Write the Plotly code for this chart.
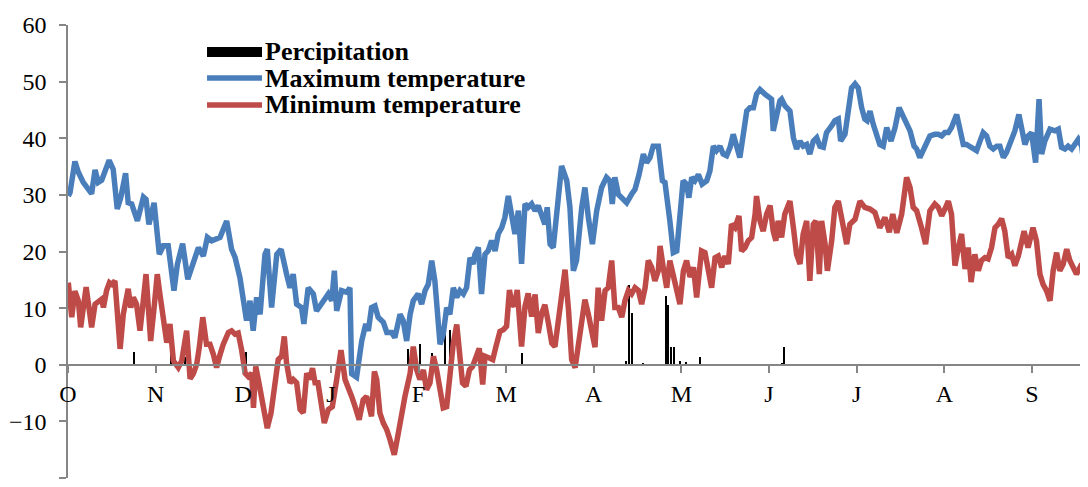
import plotly.graph_objects as go

# x positions are days since 1 October (axis shows equal-width months)
month_labels = ["O", "N", "D", "J", "F", "M", "A", "M", "J", "J", "A", "S"]
month_len = 30.43

tmax_day = [0.1, 0.7, 2.4, 3.6, 5.3, 8.2, 9.4, 10.5, 11.7, 14.3, 15.7, 17.1, 18.3, 20.0, 20.9, 22.1, 24.1, 26.2, 27.1, 28.1,
            29.9, 31.7, 33.1, 34.8, 36.8, 38.0, 39.8, 41.6, 43.5, 45.3, 47.0, 48.4, 49.9, 52.8, 55.1, 56.8, 58.0,
            59.7, 62.0, 63.2, 64.3, 65.5, 66.7, 68.4, 69.2, 70.7, 72.5, 74.0, 75.9, 77.1, 78.2, 79.4, 81.1, 81.9, 83.4,
            85.2, 86.3, 88.6, 90.4, 91.6, 92.5, 93.3, 95.0, 96.8, 97.9, 98.5, 100.2, 102.0, 103.4, 104.3, 105.4, 106.6,
            107.7, 109.5, 110.7, 112.4, 113.5, 115.3, 116.4, 117.6, 118.8,
            119.9, 121.6, 122.8, 124.0, 125.1, 126.3, 127.4, 129.2, 130.3, 131.5, 132.6, 133.8, 135.0, 136.1, 137.3,
            138.4, 139.6, 140.7, 141.3, 142.5, 143.6, 144.8, 145.9, 147.1, 148.3, 149.4, 150.6, 151.7, 152.9, 154.1,
            155.2, 156.4, 157.5, 158.7, 159.8, 161.0, 162.2, 163.3, 164.5, 165.6, 166.4, 167.4, 168.5, 169.7, 171.4,
            173.2, 174.3, 175.5, 176.6, 178.4, 179.5,
            180.7, 182.1, 183.6, 185.3, 187.0, 188.2, 189.0, 189.9, 191.1, 192.3, 194.0, 195.7, 196.9, 198.3, 199.8,
            200.9, 202.1, 203.2, 205.0, 206.4, 207.3, 209.0, 210.2, 211.4, 212.5, 213.6, 214.8, 215.6, 216.6, 217.7,
            218.9, 220.2, 221.8, 222.9, 224.1, 225.2, 226.4, 227.5, 228.7, 229.9, 231.0, 232.2, 233.3, 234.5, 235.7,
            236.8, 238.0, 239.1, 240.3,
            242.0, 243.2, 244.3, 244.9, 246.1, 247.2, 247.8, 249.0, 250.7, 251.9, 253.0, 254.2, 255.3, 256.5, 257.6,
            258.8, 260.0, 261.1, 262.3, 263.4, 265.2, 266.3, 267.5, 268.3, 269.8, 271.0, 272.1, 273.3, 274.4, 275.6,
            276.7, 277.5, 278.5, 279.6, 280.8, 281.9, 283.1, 284.3, 285.8, 287.2, 288.6, 290.0, 291.2, 292.4, 293.8,
            294.7, 295.8, 297.0, 298.2, 299.3, 301.0,
            302.2, 303.4, 304.5, 305.7, 306.8, 308.6, 309.7, 310.9, 312.0, 313.2, 314.4, 315.5, 316.7, 317.8, 319.0,
            320.1, 321.3, 322.5, 323.6, 324.8, 325.9, 327.7, 328.8, 330.2, 331.4, 332.3, 333.4, 334.6, 336.0, 337.2,
            338.1, 339.2, 341.0, 342.7, 343.9, 345.0, 346.2, 347.3, 348.5, 349.7, 350.8, 352.0, 352.9, 354.2]
tmax = [29.8, 30.4, 35.9, 34.0, 32.2, 30.2, 34.4, 32.2, 32.6, 36.1, 34.5, 27.5, 29.5, 33.8, 28.6, 28.4, 25.4, 29.6, 29.2, 24.8,
        28.6, 19.5, 21.0, 21.0, 13.1, 17.8, 21.4, 15.1, 18.0, 20.7, 19.2, 22.5, 21.9, 22.5, 25.4, 20.4, 19.0,
        15.4, 7.8, 11.3, 6.0, 11.9, 8.9, 19.5, 20.4, 10.1, 19.5, 20.4, 16.0, 13.6, 16.0, 10.7, 10.1, 7.2, 13.6,
        12.5, 9.5, 11.3, 12.5, 11.3, 16.6, 9.5, 13.1, 12.8, 13.6, -1.6, -2.2, 4.2, 7.2, 6.0, 10.1, 10.4,
        8.4, 7.5, 5.7, 5.7, 4.8, 8.9, 7.8, 4.2, 8.9,
        11.3, 12.5, 10.7, 13.1, 14.2, 18.4, 14.8, 3.6, 5.4, 10.1, 8.9, 13.6, 11.9, 13.1, 12.5,
        13.6, 18.9, 17.8, 19.5, 20.7, 12.5, 19.5, 20.1, 21.9, 20.1, 23.1, 24.2, 26.0, 29.8, 26.6,
        23.1, 27.2, 17.8, 28.4, 27.8, 28.4, 27.2, 28.1, 26.6, 24.8, 27.8, 21.3, 20.7, 26.6, 35.1,
        32.5, 27.8, 16.6, 18.4, 27.8, 31.3,
        26.0, 21.3, 27.2, 31.3, 33.1, 32.5, 28.4, 33.1, 30.1, 29.5, 28.6, 30.1, 31.0, 33.6, 37.2,
        35.7, 36.6, 38.6, 38.6, 32.5, 32.2, 25.4, 19.8, 20.1, 27.8, 32.5, 31.9, 29.5, 33.1, 32.5,
        33.6, 31.9, 32.5, 34.2, 38.6, 37.8, 38.6, 37.2, 36.9, 38.4, 40.7, 38.9, 36.6, 40.7, 44.8,
        45.4, 45.4, 47.8, 48.6,
        47.8, 47.2, 46.9, 41.3, 44.2, 46.6, 46.9, 45.7, 44.8, 40.1, 38.1, 39.5, 38.6, 38.9, 37.2,
        39.5, 40.1, 38.6, 38.4, 41.0, 42.2, 43.1, 43.4, 39.5, 40.7, 45.4, 48.9, 49.6, 48.9, 45.4,
        43.4, 43.1, 44.8, 42.5, 40.7, 38.9, 38.6, 41.9, 39.5, 41.9, 45.4, 43.9, 43.1, 41.3, 38.6,
        38.1, 36.6, 37.8, 39.5, 40.4, 40.7,
        40.7, 40.4, 41.0, 41.0, 41.9, 44.2, 41.3, 38.9, 38.9, 38.6, 38.1, 37.8, 39.5, 41.0, 40.4,
        38.6, 38.1, 38.6, 38.6, 36.6, 37.5, 39.8, 41.3, 44.2, 41.3, 38.9, 40.4, 41.0, 35.7, 46.9,
        37.2, 39.5, 41.6, 41.3, 41.6, 38.4, 38.1, 38.6, 38.1, 38.9, 39.8, 38.6, 35.1, 37.2]

tmin_day = [0.1, 1.3, 2.4, 3.6, 4.4, 5.3, 6.3, 7.6, 8.2, 9.4, 10.5, 11.7, 12.3, 13.4, 14.4, 15.2, 16.3, 17.1, 18.1, 19.2,
            20.9, 21.8, 22.7, 23.8, 25.0, 25.9, 27.1, 27.9, 28.7, 29.9, 31.0, 31.9, 33.3, 34.3, 35.4, 36.6, 38.3, 39.5,
            41.2, 42.4, 43.5, 44.7, 45.6, 46.8, 48.1, 49.3, 50.5, 51.6, 52.8, 53.9, 55.7, 56.8, 58.0,
            59.1, 60.3, 61.5, 62.6, 63.8, 64.4, 65.2, 66.3, 67.8, 69.2, 70.5, 71.9, 73.0, 74.2, 75.1, 75.9, 77.1,
            78.2, 79.4, 80.6, 81.7, 82.9, 84.0, 84.9, 85.8, 86.8, 88.1, 89.0, 90.4, 91.8, 93.3, 94.8, 96.2, 97.3,
            98.5, 99.7, 101.1, 102.5, 103.7, 105.4, 106.4, 107.2, 108.3, 109.5, 110.7, 111.8, 113.3, 114.7, 115.9,
            117.0, 118.8,
            119.9, 121.1, 122.2, 123.4, 124.5, 125.7, 126.9, 128.0, 129.2, 130.3, 131.5, 132.6, 133.8, 135.0, 135.9,
            137.0, 138.2, 139.4, 140.5, 141.7, 142.8, 144.0, 144.8, 146.3, 147.5, 148.6, 150.0, 151.2, 152.3, 153.3,
            154.1, 154.9, 156.0, 157.5, 158.7, 159.8, 161.0, 162.2, 163.3, 164.5, 165.6, 166.8, 168.0, 169.1, 170.3,
            171.4, 172.6, 173.8, 174.9, 176.1, 177.2, 178.4, 179.5,
            180.7, 181.8, 183.0, 184.1, 185.3, 186.5, 187.6, 188.8, 189.9, 191.1, 192.3, 193.4, 194.6, 195.7, 196.9,
            198.1, 199.2, 200.4, 201.5, 202.7, 203.8, 205.0, 205.6, 206.7, 207.9, 209.0, 210.2, 211.4, 212.5, 213.7,
            214.8, 216.0, 217.2, 218.3, 220.0, 221.2, 222.3, 223.5, 224.7, 225.8, 227.0, 228.1, 229.3, 230.4, 231.6,
            233.0, 233.9, 235.1, 236.2, 237.4, 238.6, 239.1, 240.3,
            241.4, 242.6, 243.8, 244.9, 245.8, 246.6, 247.8, 248.9, 250.7, 251.9, 253.0, 254.2, 255.3, 256.5, 257.6,
            258.8, 259.7, 260.9, 261.7, 262.9, 263.7, 265.2, 266.3, 267.5, 268.6, 270.4, 271.5, 273.3, 275.0, 276.7,
            278.5, 280.2, 281.9, 283.7, 285.2, 286.4, 287.8, 289.5, 291.2, 292.4, 293.5, 294.7, 296.4, 297.8, 299.3,
            301.0,
            302.2, 303.4, 304.5, 305.7, 306.8, 308.0, 309.2, 310.3, 311.5, 312.6, 313.6, 314.9, 316.1, 317.2, 318.4,
            319.5, 320.7, 321.9, 323.0, 324.2, 325.3, 326.5, 327.7, 328.8, 330.0, 331.1, 332.0, 333.4, 335.1, 336.3,
            337.5, 338.6, 339.8, 341.0, 342.1, 343.3, 344.4, 345.6, 346.8, 347.9, 349.1, 350.2, 352.0, 353.1, 354.2]
tmin = [14.5, 8.4, 13.0, 11.3, 6.6, 9.5, 13.7, 8.9, 6.6, 10.7, 11.3, 11.6, 10.1, 13.1, 14.5, 14.2, 14.8, 10.1, 2.8, 8.9,
        13.4, 10.1, 11.9, 10.7, 6.0, 10.1, 16.0, 10.1, 4.2, 10.1, 16.0, 12.5, 7.8, 3.9, 7.2, 0.7, -0.5, 0.7,
        6.0, -2.5, -1.6, 0.1, 3.1, 8.4, 3.6, 3.6, 1.8, -0.5, 1.8, 3.6, 5.7, 6.0, 5.4,
        5.6, 2.6, -1.5, -2.1, -1.5, -7.6, -0.3, -3.2, -7.9, -11.2, -8.5, -2.1, 0.9, 1.5, 5.0, 0.3, -3.2,
        -2.6, -3.2, -7.9, -8.5, -1.5, -2.6, -0.6, -3.2, -3.2, -7.9, -10.3, -7.9, -7.4, -2.6, 2.6, -2.6, -3.8,
        -5.6, -7.4, -9.7, -6.2, -5.6, -9.1, -1.2, -2.6, -8.5, -10.3, -11.5, -13.2, -15.9, -12.1, -8.5,
        -5.6, -1.5,
        3.2, -0.9, -2.6, -0.9, -4.4, -3.2, 1.5, -0.9, -4.4, -7.6, -7.4, -0.9, 3.8, 7.1, 2.1,
        -3.2, -3.8, -0.9, -0.3, 1.8, 2.9, -3.5, 1.5, 1.2, 0.9, 3.2, 5.9, 6.2, 6.8, 13.2,
        10.9, 10.3, 13.2, 3.2, 10.3, 12.6, 8.5, 12.4, 5.6, 9.1, 10.6, 7.4, 3.8, 3.2, 7.4,
        11.5, 16.8, 9.7, 0.9, -0.5, 3.2, 7.4, 11.5,
        8.9, 5.4, 3.1, 13.6, 7.8, 13.1, 13.6, 18.4, 10.1, 10.1, 8.4, 11.3, 13.1, 12.5, 13.6,
        13.1, 10.7, 13.6, 18.4, 17.2, 14.8, 16.6, 21.0, 17.2, 13.6, 18.4, 16.0, 13.1, 10.7, 16.6,
        18.4, 15.5, 17.2, 11.9, 20.1, 19.8, 16.6, 13.6, 18.9, 19.2, 17.2, 19.2, 17.8, 24.8, 24.2,
        26.3, 20.1, 20.7, 21.9, 22.5, 26.6, 29.8, 25.4,
        23.6, 26.6, 28.1, 23.6, 21.9, 25.4, 22.5, 26.6, 28.9, 24.2, 19.5, 17.8, 23.1, 25.4, 14.8,
        24.8, 25.4, 16.0, 25.4, 21.3, 16.6, 21.9, 27.8, 28.9, 26.0, 21.3, 24.8, 25.7, 28.9, 27.8,
        27.5, 26.9, 24.2, 26.0, 23.4, 26.6, 23.3, 26.6, 33.1, 31.3, 27.8, 27.2, 24.2, 21.3, 27.2,
        28.4,
        27.8, 26.3, 27.5, 28.9, 26.6, 17.5, 20.7, 23.1, 16.9, 20.7, 14.6, 19.5, 16.6, 18.4, 18.9,
        18.7, 20.7, 24.2, 24.8, 25.8, 23.6, 18.9, 19.5, 17.5, 19.2, 21.3, 23.6, 20.7, 24.2, 21.9,
        16.0, 14.2, 13.1, 11.3, 16.6, 19.8, 16.6, 17.8, 20.4, 18.4, 17.2, 16.0, 17.8, 16.0, 13.6]

precip_day = [22.9, 35.8, 40.6, 62.0, 118.1, 122.2, 126.4, 130.9, 132.6, 157.6, 193.8, 194.8, 195.8, 199.7,
              207.6, 208.3, 209.4, 210.4, 212.5, 214.6, 219.4, 247.9, 248.6]
precip = [2.2, 2.6, 1.3, 2.2, 2.8, 3.6, 2.0, 6.6, 6.2, 2.0, 0.6, 14.0, 9.2, 0.3,
          12.2, 10.5, 3.1, 3.1, 0.6, 0.4, 1.4, 0.3, 3.2]

series_names = ["Percipitation", "Maximum temperature", "Minimum temperature"]

BLUE = "#4A7EBB"
RED = "#BE4B48"
AXIS = "#868686"
FONT = "Liberation Serif"

fig = go.Figure()
fig.add_trace(go.Bar(x=precip_day, y=precip, width=0.5, marker=dict(color="black", line=dict(width=0)),
                     showlegend=False, name=series_names[0]))
fig.add_trace(go.Scatter(x=tmax_day, y=tmax, mode="lines", name=series_names[1], showlegend=False,
                         line=dict(color=BLUE, width=5.5)))
fig.add_trace(go.Scatter(x=tmin_day, y=tmin, mode="lines", name=series_names[2], showlegend=False,
                         line=dict(color=RED, width=5.5)))

# manual legend (paper coordinates relative to the plot area)
legend_rows = [0.9404, 0.883, 0.8234]
legend_style = [dict(color="black", width=10), dict(color=BLUE, width=5.5), dict(color=RED, width=5.5)]
legend_x0, legend_x1, legend_tx = 0.1363, 0.1902, 0.1922
for name, yv, st in zip(series_names, legend_rows, legend_style):
    fig.add_shape(type="line", xref="paper", yref="paper", x0=legend_x0, x1=legend_x1, y0=yv, y1=yv,
                  line=st)
    fig.add_annotation(xref="paper", yref="paper", x=legend_tx, y=yv, xanchor="left", yanchor="middle",
                       text="<b>" + name + "</b>", showarrow=False, height=25, borderpad=0,
                       font=dict(family=FONT, size=26, color="black"))

# the page body adds an 8px offset; width/height/margins compensate for it
fig.update_layout(
    width=1080, height=479,
    margin=dict(l=60, r=0, t=17, b=9),
    plot_bgcolor="white", paper_bgcolor="white",
    font=dict(family=FONT, size=24, color="black"),
    showlegend=False,
    bargap=0,
)
fig.update_xaxes(range=[0, 354.2], tickvals=[i * month_len for i in range(12)], ticktext=month_labels,
                 anchor="free", position=0.25, showline=True, linecolor=AXIS, linewidth=1.5,
                 ticks="outside", ticklen=7, tickcolor=AXIS, tickwidth=1.5, showgrid=False, zeroline=False,
                 tickfont=dict(family=FONT, size=24, color="black"), ticklabelstandoff=1, automargin=False)
fig.update_yaxes(range=[-20, 60], dtick=10, showline=True, linecolor=AXIS, linewidth=1.5,
                 ticks="outside", ticklen=7, tickcolor=AXIS, tickwidth=1.5, showgrid=False, zeroline=False,
                 tickfont=dict(family=FONT, size=24, color="black"), ticklabelstandoff=8, automargin=False)

fig.write_html("out.html")
